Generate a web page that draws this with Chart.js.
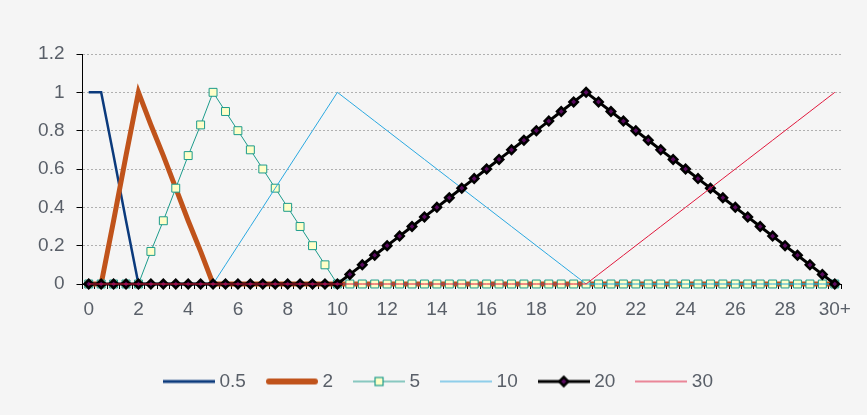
<!DOCTYPE html>
<html>
<head>
<meta charset="utf-8">
<script src="https://cdn.jsdelivr.net/npm/chart.js@4.4.1/dist/chart.umd.min.js"></script>
<style>
  html, body { margin: 0; padding: 0; background: #f5f5f5; }
  canvas { display: block; }
</style>
</head>
<body>
<canvas id="chart" width="867" height="415"></canvas>
<script>
const xLabels = [
  "0", "0.5", "1", "1.5", "2", "2.5", "3", "3.5", "4", "4.5",
  "5", "5.5", "6", "6.5", "7", "7.5", "8", "8.5", "9", "9.5",
  "10", "10.5", "11", "11.5", "12", "12.5", "13", "13.5", "14", "14.5",
  "15", "15.5", "16", "16.5", "17", "17.5", "18", "18.5", "19", "19.5",
  "20", "20.5", "21", "21.5", "22", "22.5", "23", "23.5", "24", "24.5",
  "25", "25.5", "26", "26.5", "27", "27.5", "28", "28.5", "29", "29.5",
  "30+",
];

const seriesNames = ["0.5", "2", "5", "10", "20", "30"];

const s05 = [
  1, 1, 0.67, 0.33, 0, 0, 0, 0, 0, 0,
  0, 0, 0, 0, 0, 0, 0, 0, 0, 0,
  0, 0, 0, 0, 0, 0, 0, 0, 0, 0,
  0, 0, 0, 0, 0, 0, 0, 0, 0, 0,
  0, 0, 0, 0, 0, 0, 0, 0, 0, 0,
  0, 0, 0, 0, 0, 0, 0, 0, 0, 0,
  0,
];
const s2 = [
  0, 0, 0.33, 0.67, 1, 0.83, 0.67, 0.5, 0.33, 0.17,
  0, 0, 0, 0, 0, 0, 0, 0, 0, 0,
  0, 0, 0, 0, 0, 0, 0, 0, 0, 0,
  0, 0, 0, 0, 0, 0, 0, 0, 0, 0,
  0, 0, 0, 0, 0, 0, 0, 0, 0, 0,
  0, 0, 0, 0, 0, 0, 0, 0, 0, 0,
  0,
];
const s5 = [
  0, 0, 0, 0, 0, 0.17, 0.33, 0.5, 0.67, 0.83,
  1, 0.9, 0.8, 0.7, 0.6, 0.5, 0.4, 0.3, 0.2, 0.1,
  0, 0, 0, 0, 0, 0, 0, 0, 0, 0,
  0, 0, 0, 0, 0, 0, 0, 0, 0, 0,
  0, 0, 0, 0, 0, 0, 0, 0, 0, 0,
  0, 0, 0, 0, 0, 0, 0, 0, 0, 0,
  0,
];
const s10 = [
  0, 0, 0, 0, 0, 0, 0, 0, 0, 0,
  0, 0.1, 0.2, 0.3, 0.4, 0.5, 0.6, 0.7, 0.8, 0.9,
  1, 0.95, 0.9, 0.85, 0.8, 0.75, 0.7, 0.65, 0.6, 0.55,
  0.5, 0.45, 0.4, 0.35, 0.3, 0.25, 0.2, 0.15, 0.1, 0.05,
  0, 0, 0, 0, 0, 0, 0, 0, 0, 0,
  0, 0, 0, 0, 0, 0, 0, 0, 0, 0,
  0,
];
const s20 = [
  0, 0, 0, 0, 0, 0, 0, 0, 0, 0,
  0, 0, 0, 0, 0, 0, 0, 0, 0, 0,
  0, 0.05, 0.1, 0.15, 0.2, 0.25, 0.3, 0.35, 0.4, 0.45,
  0.5, 0.55, 0.6, 0.65, 0.7, 0.75, 0.8, 0.85, 0.9, 0.95,
  1, 0.95, 0.9, 0.85, 0.8, 0.75, 0.7, 0.65, 0.6, 0.55,
  0.5, 0.45, 0.4, 0.35, 0.3, 0.25, 0.2, 0.15, 0.1, 0.05,
  0,
];
const s30 = [
  0, 0, 0, 0, 0, 0, 0, 0, 0, 0,
  0, 0, 0, 0, 0, 0, 0, 0, 0, 0,
  0, 0, 0, 0, 0, 0, 0, 0, 0, 0,
  0, 0, 0, 0, 0, 0, 0, 0, 0, 0,
  0, 0.05, 0.1, 0.15, 0.2, 0.25, 0.3, 0.35, 0.4, 0.45,
  0.5, 0.55, 0.6, 0.65, 0.7, 0.75, 0.8, 0.85, 0.9, 0.95,
  1,
];

const FONT = "'Liberation Sans', Arial, sans-serif";
const TEXT = "#595f68";
const SQUARE_FILL = "#ffffc8";
const TEAL = "#1c9b8b";
const PURPLE = "#5a0a5e";

// little canvases used as legend symbols (line + optional marker)
function legendIcon(color, width, marker) {
  const c = document.createElement("canvas");
  c.width = 52;
  c.height = 16;
  const g = c.getContext("2d");
  g.strokeStyle = color;
  g.lineWidth = width;
  g.lineCap = width > 4 ? "round" : "butt";
  g.beginPath();
  g.moveTo(width > 4 ? 3 : 0, 8);
  g.lineTo(width > 4 ? 49 : 52, 8);
  g.stroke();
  if (marker === "square") {
    g.fillStyle = SQUARE_FILL;
    g.strokeStyle = TEAL;
    g.lineWidth = 1.2;
    g.fillRect(22, 4, 8, 8);
    g.strokeRect(22, 4, 8, 8);
  } else if (marker === "diamond") {
    g.fillStyle = PURPLE;
    g.strokeStyle = "#000";
    g.lineWidth = 2.5;
    g.beginPath();
    g.moveTo(26, 3.5);
    g.lineTo(30.5, 8);
    g.lineTo(26, 12.5);
    g.lineTo(21.5, 8);
    g.closePath();
    g.fill();
    g.stroke();
  }
  return c;
}

const icons = [
  legendIcon("#0b3a7c", 3),
  legendIcon("#c0531b", 6),
  legendIcon(TEAL, 1.2, "square"),
  legendIcon("#2aa8e0", 1.2),
  legendIcon("#000", 3, "diamond"),
  legendIcon("#e0183c", 1.2),
];

const datasets = [
  { label: seriesNames[0], data: s05, borderColor: "#0b3a7c", borderWidth: 2.5, pointRadius: 0 },
  { label: seriesNames[1], data: s2, borderColor: "#c0531b", borderWidth: 5, pointRadius: 0 },
  {
    label: seriesNames[2], data: s5, borderColor: TEAL, borderWidth: 1,
    pointStyle: "rect", pointRadius: 5.6, pointBorderWidth: 1,
    pointBackgroundColor: SQUARE_FILL, pointBorderColor: TEAL,
  },
  { label: seriesNames[3], data: s10, borderColor: "#2aa8e0", borderWidth: 1, pointRadius: 0 },
  {
    label: seriesNames[4], data: s20, borderColor: "#000", borderWidth: 3,
    pointStyle: "rectRot", pointRadius: 4.2, pointBorderWidth: 2.5,
    pointBackgroundColor: PURPLE, pointBorderColor: "#000",
  },
  { label: seriesNames[5], data: s30, borderColor: "#e0183c", borderWidth: 1, pointRadius: 0 },
].map((d, i) => ({ ...d, order: 5 - i, tension: 0, fill: false, clip: false, pointHoverRadius: 0 }));

// legend in the original sits a little right of centre
const nudgeLegend = {
  id: "nudgeLegend",
  afterLayout(chart) {
    chart.legend.left += 7;
    chart.legend.right += 7;
  },
};

new Chart(document.getElementById("chart"), {
  type: "line",
  data: { labels: xLabels, datasets },
  plugins: [nudgeLegend],
  options: {
    responsive: false,
    animation: false,
    layout: { padding: { top: 54, left: 26, right: 26, bottom: 14 } },
    scales: {
      x: {
        type: "category",
        offset: true,
        afterFit: (scale) => { scale.height = 63; },
        grid: { offset: true, drawOnChartArea: false, tickLength: 5, tickColor: "#000" },
        border: { color: "#000", width: 1 },
        ticks: {
          autoSkip: false,
          maxRotation: 0,
          minRotation: 0,
          padding: 9,
          color: TEXT,
          font: { family: FONT, size: 19 },
          callback: (val, i) => (i % 4 === 0 ? xLabels[i] : ""),
        },
      },
      y: {
        min: 0,
        max: 1.2,
        afterFit: (scale) => { scale.width = 56.5; },
        grid: { color: "#b0b0b0", tickLength: 6, tickColor: "#000" },
        border: { color: "#000", width: 1, dash: [2, 2] },
        ticks: {
          stepSize: 0.2,
          padding: 12,
          color: TEXT,
          font: { family: FONT, size: 19 },
          callback: (v) => String(Math.round(v * 10) / 10),
        },
      },
    },
    plugins: {
      tooltip: { enabled: false },
      legend: {
        position: "bottom",
        labels: {
          usePointStyle: true,
          pointStyleWidth: 42,
          padding: 25,
          color: TEXT,
          font: { family: FONT, size: 19 },
          sort: (a, b) => a.datasetIndex - b.datasetIndex,
          generateLabels: (chart) =>
            Chart.defaults.plugins.legend.labels.generateLabels(chart).map((item) => ({
              ...item,
              pointStyle: icons[item.datasetIndex],
            })),
        },
      },
    },
  },
});
</script>
</body>
</html>
